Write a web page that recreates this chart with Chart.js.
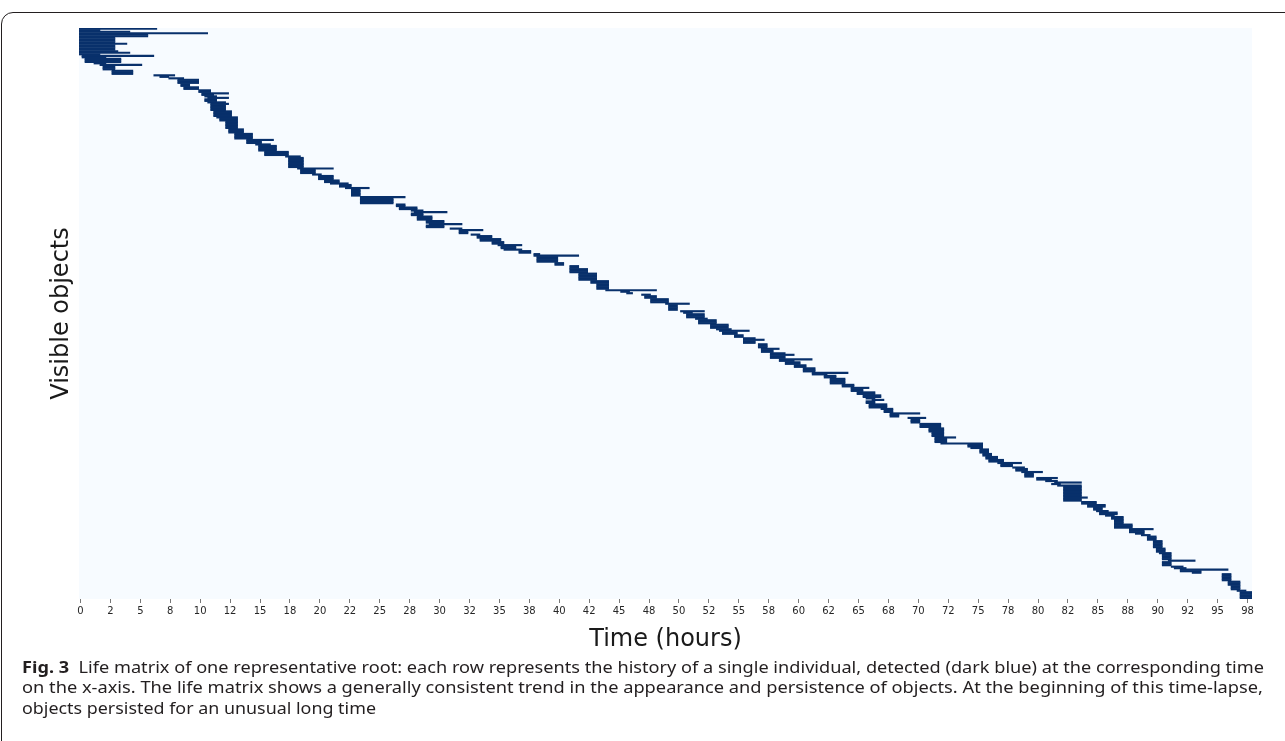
<!DOCTYPE html>
<html><head><meta charset="utf-8">
<script src="https://cdn.jsdelivr.net/npm/chart.js@4.4.1/dist/chart.umd.min.js"></script>
<style>
html,body{margin:0;padding:0;background:#fff;}
#wrap{position:relative;width:1285px;height:741px;overflow:hidden;background:#fff;}
#frame{position:absolute;left:1px;top:12px;width:1400px;height:900px;border:1.5px solid #231f20;border-top-left-radius:12px;box-sizing:border-box;}
canvas{position:absolute;left:0;top:0;}
.cap{position:absolute;left:22px;white-space:nowrap;font-family:"Noto Sans","Liberation Sans",sans-serif;font-size:16px;line-height:20px;color:#231f20;transform-origin:0 50%;}
</style></head><body>
<div id="wrap">
<div id="frame"></div>
<canvas id="c" width="1285" height="741"></canvas>
<div class="cap" id="cap1" style="top:657px"><b>Fig. 3</b>&nbsp; Life matrix of one representative root: each row represents the history of a single individual, detected (dark blue) at the corresponding time</div>
<div class="cap" id="cap2" style="top:677px">on the x-axis. The life matrix shows a generally consistent trend in the appearance and persistence of objects. At the beginning of this time-lapse,</div>
<div class="cap" id="cap3" style="top:698px">objects persisted for an unusual long time</div>
</div>
<script>
// Each group = consecutive objects (rows) sharing the same first / last detection time (hours)
const groupSize = [
 1,1,1,1,2,4,1,4,1,1,
 1,1,1,3,1,1,3,3,1,1,
 1,3,2,2,2,1,1,1,1,2,
 1,1,4,4,1,2,5,3,4,1,
 2,1,4,3,1,7,1,3,1,3,
 2,1,2,1,5,1,4,2,2,1,
 1,2,3,2,1,2,1,1,2,1,
 2,2,2,1,2,1,2,1,1,4,
 2,2,3,5,2,4,1,1,1,1,
 2,3,1,4,1,1,3,1,3,3,
 1,1,2,2,1,1,2,3,1,2,
 1,1,2,1,1,2,2,2,1,1,
 1,2,4,2,1,2,2,2,1,1,
 2,3,1,2,1,2,1,3,3,3,
 3,1,3,1,2,1,3,2,2,2,
 1,2,1,2,1,3,1,1,1,1,
 1,1,7,1,2,2,2,2,1,2,
 1,2,3,3,1,2,1,1,3,3,
 2,3,1,4,1,3,1,1,1,1,
 1,5,3,3,1,5];
const appearHour = [
 0,0,0,0,0,0,0,0,0,0,
 0,0.25,0.25,0.5,1.25,1.75,2,2.75,6.25,6.75,
 7.5,8.25,8.5,8.75,10,10.25,10.25,10.5,10.75,10.5,
 10.75,11,11,11.25,11.5,11.75,12.25,12.5,13,14,
 14,14.75,15,15.5,17.25,17.5,18.25,18.5,19.5,20,
 20.5,21,21.75,22.25,22.75,23.5,23.5,26.5,26.75,27.75,
 28,27.75,28.25,29,29.25,29,31,31.75,31.75,32.75,
 33.25,33.5,34.5,35,35.25,35.5,36.75,38,38,38.25,
 39.75,41,41,41.75,42.75,43.25,44,45.25,45.75,47,
 47.25,47.75,49,49.25,50.25,50.5,50.75,51.5,51.75,52.75,
 53.25,53.5,53.75,54.75,55.5,55.5,55.5,56.75,57,57,
 57.75,57.75,57.75,58.5,58.5,59,59.75,60.5,60.5,61.25,
 61.25,62.25,62.75,63.75,64.5,64.5,65,65.5,65.75,66.25,
 65.75,66,67,67.25,67.75,67.75,69.25,69.5,70.25,71,
 71.25,71.5,71.5,72,74.25,74.5,75.25,75.5,75.75,76,
 76.75,77,78,78.25,78.75,79,80,80,80.75,81.5,
 81.25,81.75,82.25,82.25,82.25,83.75,84.25,84.75,85,85.25,
 85.75,86.25,86.5,86.5,87.75,87.75,88.25,88.75,89.25,89.75,
 89.75,90,90.25,90.5,91,90.5,91.25,91.5,92,92,
 93,95.5,96,96.25,96.75,97];
const vanishHour = [
 6.25,1.5,4,10.5,5.5,2.75,3.75,2.75,3,4,
 1.5,6,2,3.25,2,5,2.75,4.25,7.75,7.25,
 8.5,9.75,9,9.75,10.75,12.25,11,11.25,12.25,11.25,
 12,12.25,12,12.5,13,13,13,13.5,14.25,16,
 15,15.75,16.25,17.25,18.25,18.5,21,19.5,20,21,
 21.5,22.25,22.5,24,23.25,27,26,27,28,28.5,
 30.5,28.5,29.25,30.25,31.75,30.25,31.75,33.5,32.25,33.25,
 34.25,35,35.25,36.75,36.25,36.75,37.5,38.25,41.5,39.75,
 40.25,41.5,42.25,43,44,44,48,45.75,46,47.5,
 48,49,50.75,49.75,52,51,52,52.25,53,54,
 54.25,55.75,54.75,55.25,56.25,57,56.25,57.25,58.25,57.75,
 58.75,59.5,58.75,61,59.5,60,60.5,61.25,61.25,64,
 62.25,63,63.75,64.5,65.75,65.25,66.25,66.75,66.25,67,
 66.25,67.25,67.75,67.75,70,68.25,70.5,70,71.75,72,
 72,73,72.25,75.25,75.25,75.25,75.75,76,76.5,77,
 78.5,77.75,78.75,79,80.25,79.5,81.5,81,81.5,83.5,
 81.75,83.5,83.5,84,83.5,84.75,85.5,85.25,85.75,86.5,
 86.25,87,87,87.75,89.5,88.75,88.75,89.25,89.75,90.25,
 90.25,90.5,91,91,93,91,92,92.25,95.75,93.5,
 93.5,96,96.75,96.75,97.25,97.75];
// x-axis tick labels every 2.5 h (rounded as printed in the original figure)
const tickLabels = ['0','2','5','8','10','12','15','18','20','22','25','28','30','32','35','38','40','42','45','48',
 '50','52','55','58','60','62','65','68','70','72','75','78','80','82','85','88','90','92','95','98'];
const sampleStep = 0.25; // hours between frames

const rows = [];
let r = 0;
for (let g = 0; g < groupSize.length; g++) {
  for (let k = 0; k < groupSize[g]; k++) {
    rows.push({ y: r, x: [appearHour[g] - sampleStep/2, vanishHour[g] + sampleStep/2] });
    r++;
  }
}
const nRows = r;

const bgPlugin = { id:'bg', beforeDraw(c){ const a=c.chartArea, x=c.ctx; x.save(); x.fillStyle='#f7fbff'; x.fillRect(a.left,a.top,a.right-a.left,a.bottom-a.top); x.restore(); } };

new Chart(document.getElementById('c'), {
  type: 'bar',
  data: { datasets: [{ data: rows, backgroundColor: '#08306b', borderWidth: 0, barPercentage: 1, categoryPercentage: 1, borderSkipped: false }] },
  options: {
    indexAxis: 'y', responsive: false, animation: false, devicePixelRatio: 1,
    layout: { padding: { left: 0, top: 28, right: 33, bottom: 741 - 599 - 67 } },
    plugins: { legend: { display: false }, tooltip: { enabled: false } },
    scales: {
      x: {
        type: 'linear', position: 'bottom', min: -sampleStep/2, max: 97.75 + sampleStep/2,
        afterFit: s => { s.height = 67; },
        grid: { display: true, drawOnChartArea: false, drawTicks: true, tickLength: 4, color: '#555', tickWidth: 0.8 },
        border: { display: false },
        ticks: { stepSize: 2.5, includeBounds: false, autoSkip: false, maxRotation: 0, minRotation: 0,
          font: { family: 'DejaVu Sans', size: 10 }, color: '#262626', padding: 2,
          callback: (v, i) => tickLabels[i] },
        title: { display: true, text: 'Time (hours)', font: { family: 'DejaVu Sans', size: 24 }, color: '#1a1a1a', padding: { top: 0, bottom: 12 } }
      },
      y: {
        type: 'linear', reverse: true, min: -0.5, max: nRows - 0.5, offset: false,
        afterFit: s => { s.width = 79; },
        grid: { display: false }, border: { display: false }, ticks: { display: false },
        title: { display: true, text: 'Visible objects', font: { family: 'DejaVu Sans', size: 24 }, color: '#1a1a1a', padding: { top: 47, bottom: 0 } }
      }
    }
  },
  plugins: [bgPlugin]
});

function fitCaptions(){
  [['cap1',1242],['cap2',1241],['cap3',354]].forEach(([id,w])=>{
    const el=document.getElementById(id);
    el.style.transform='none';
    const nat=el.getBoundingClientRect().width;
    el.style.transform='scaleX('+(w/nat)+')';
  });
}
fitCaptions();
if (document.fonts && document.fonts.ready) document.fonts.ready.then(fitCaptions);
</script>
</body></html>
